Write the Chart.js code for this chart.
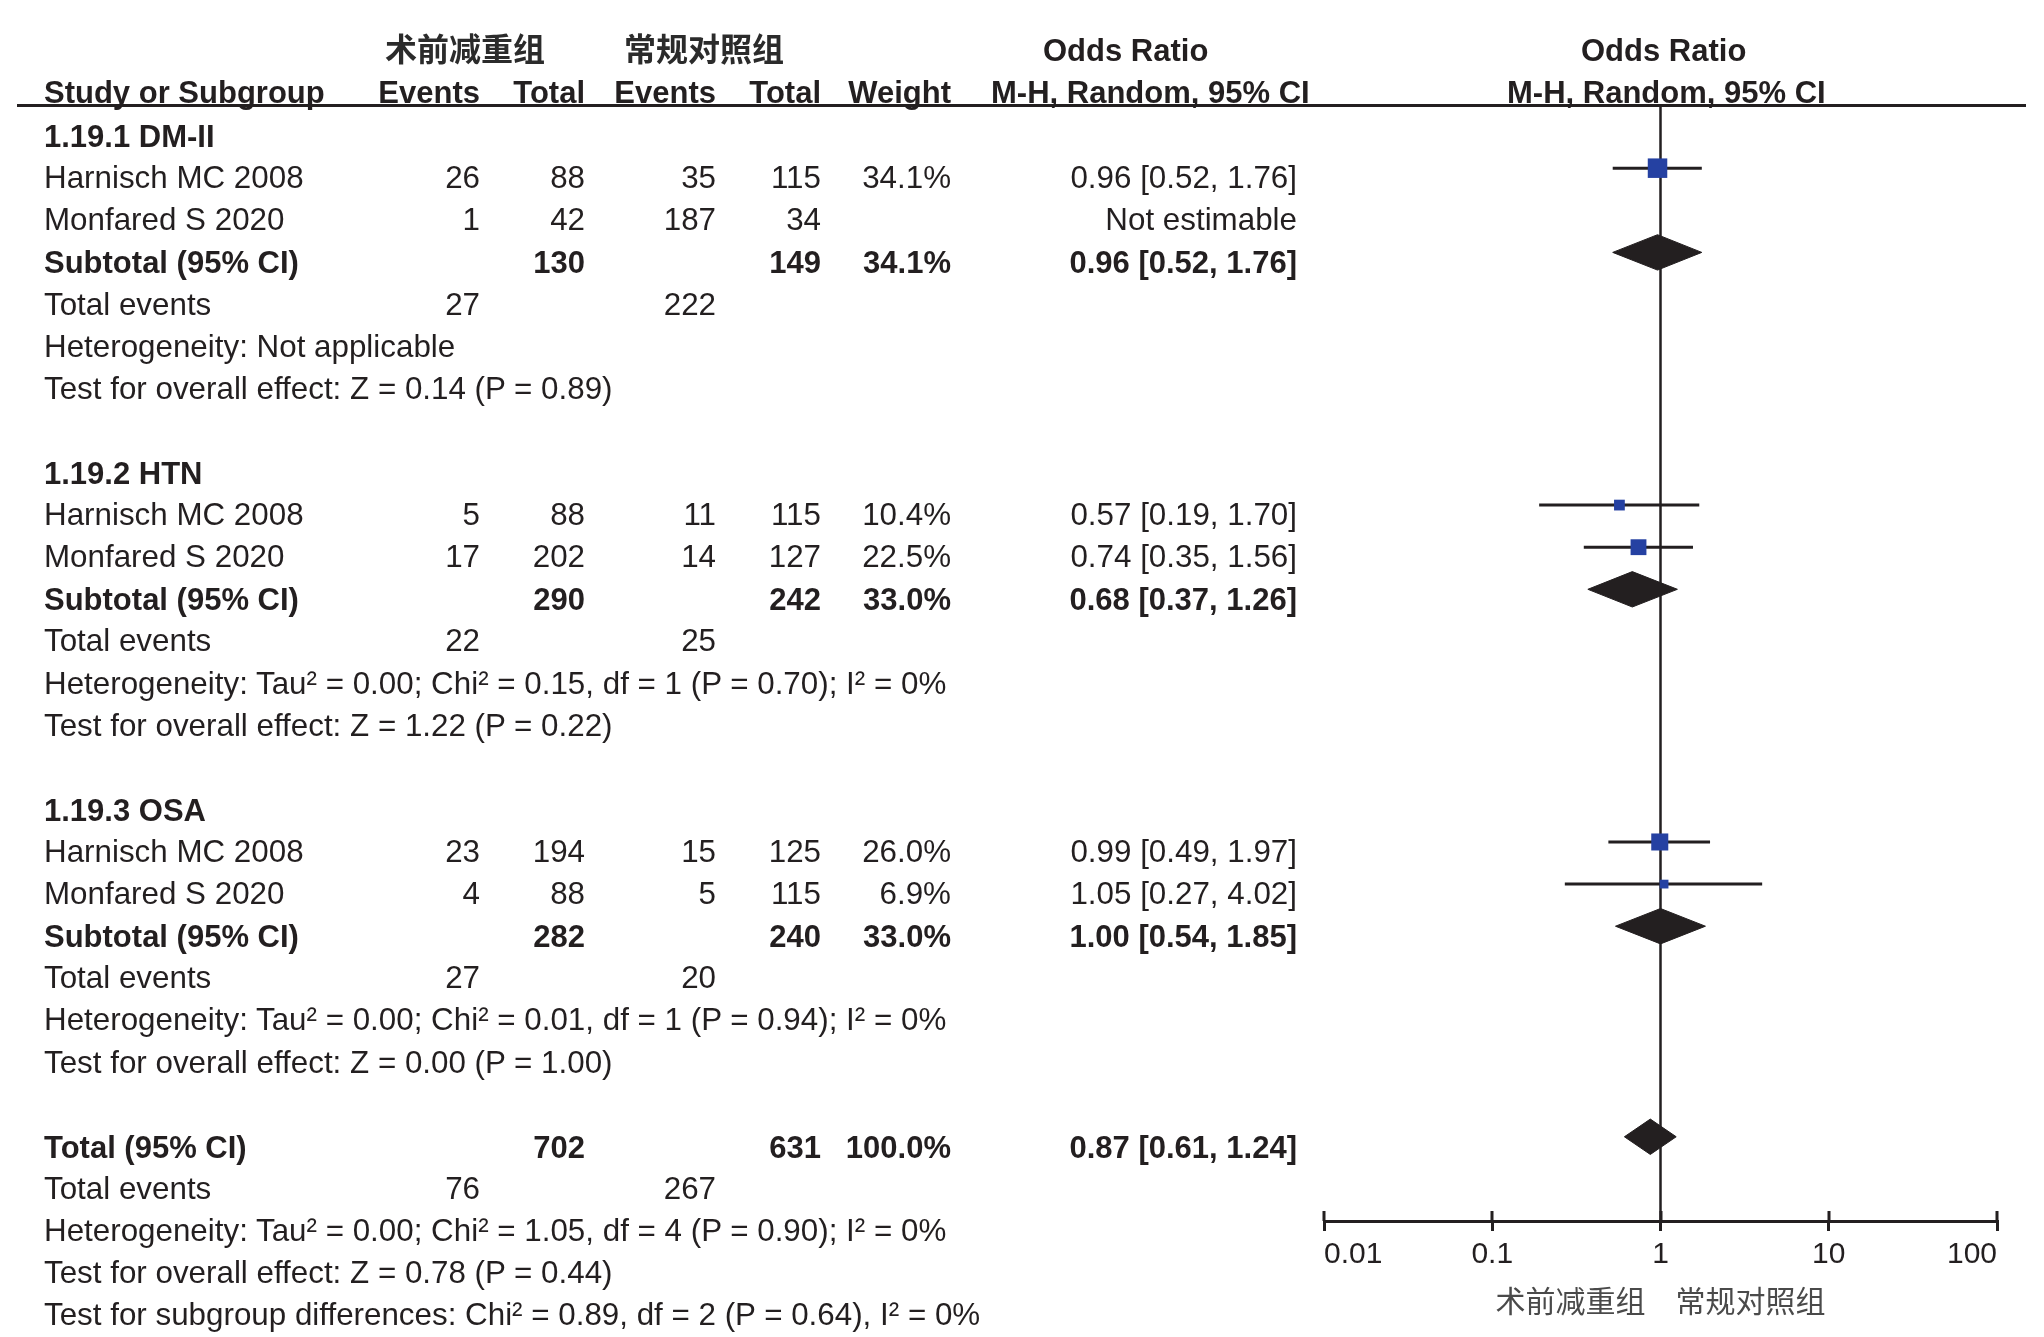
<!DOCTYPE html>
<html>
<head>
<meta charset="utf-8">
<script src="https://cdn.jsdelivr.net/npm/chart.js@4/dist/chart.umd.min.js"></script>
<style>
  html, body { margin: 0; padding: 0; background: #fff; overflow: hidden; }
  #wrap { position: relative; width: 2044px; height: 1337px; overflow: hidden; }
  #c { position: absolute; left: 0; top: 0; width: 2044px; height: 1337px; }
  #txt { position: absolute; left: 0; top: 0; width: 2044px; height: 1337px; }
  .t { position: absolute; white-space: nowrap; line-height: 1; font-family: "Liberation Sans", Arial, sans-serif; font-size: 31.35px; color: #231f20; }
  .b { font-weight: bold; font-size: 31px; }
  .cjk { font-family: "Noto Sans CJK SC", sans-serif; font-weight: bold; font-size: 32px; color: #2b2b2b; }
  .hline { position: absolute; height: 3px; background: #231f20; }
</style>
</head>
<body>
<div id="wrap">
  <canvas id="c" width="2044" height="1337"></canvas>
  <div id="txt"></div>
</div>
<script>
// ---------------- data ----------------
const GROUPS = ['1.19.1 DM-II', '1.19.2 HTN', '1.19.3 OSA'];

const STUDIES     = ['Harnisch MC 2008', 'Monfared S 2020', 'Harnisch MC 2008', 'Monfared S 2020', 'Harnisch MC 2008', 'Monfared S 2020'];
const STUDY_GROUP = [0, 0, 1, 1, 2, 2];
const EXP_EVENTS  = [26, 1, 5, 17, 23, 4];
const EXP_TOTAL   = [88, 42, 88, 202, 194, 88];
const CTL_EVENTS  = [35, 187, 11, 14, 15, 5];
const CTL_TOTAL   = [115, 34, 115, 127, 125, 115];
const WEIGHT      = [34.1, null, 10.4, 22.5, 26.0, 6.9];
const OR          = [0.96, null, 0.57, 0.74, 0.99, 1.05];
const CI_LO       = [0.52, null, 0.19, 0.35, 0.49, 0.27];
const CI_HI       = [1.76, null, 1.70, 1.56, 1.97, 4.02];

const SUB_EXP_TOTAL  = [130, 290, 282];
const SUB_CTL_TOTAL  = [149, 242, 240];
const SUB_WEIGHT     = [34.1, 33.0, 33.0];
const SUB_OR         = [0.96, 0.68, 1.00];
const SUB_LO         = [0.52, 0.37, 0.54];
const SUB_HI         = [1.76, 1.26, 1.85];
const SUB_EXP_EVENTS = [27, 22, 27];
const SUB_CTL_EVENTS = [222, 25, 20];
const SUB_HET = [
  'Heterogeneity: Not applicable',
  'Heterogeneity: Tau² = 0.00; Chi² = 0.15, df = 1 (P = 0.70); I² = 0%',
  'Heterogeneity: Tau² = 0.00; Chi² = 0.01, df = 1 (P = 0.94); I² = 0%'
];
const SUB_TEST = [
  'Test for overall effect: Z = 0.14 (P = 0.89)',
  'Test for overall effect: Z = 1.22 (P = 0.22)',
  'Test for overall effect: Z = 0.00 (P = 1.00)'
];

const TOTAL_EXP = 702, TOTAL_CTL = 631, TOTAL_WEIGHT = 100.0;
const TOTAL_OR = 0.87, TOTAL_LO = 0.61, TOTAL_HI = 1.24;
const TOTAL_EXP_EVENTS = 76, TOTAL_CTL_EVENTS = 267;
const TOTAL_HET = 'Heterogeneity: Tau² = 0.00; Chi² = 1.05, df = 4 (P = 0.90); I² = 0%';
const TOTAL_TEST = 'Test for overall effect: Z = 0.78 (P = 0.44)';
const SUBGROUP_TEST = 'Test for subgroup differences: Chi² = 0.89, df = 2 (P = 0.64), I² = 0%';

const GROUP_EXP = '术前减重组';
const GROUP_CTL = '常规对照组';
const X_TICKS = [0.01, 0.1, 1, 10, 100];

// ---------------- layout / style ----------------
const INK = '#231f20';
const BLUE = '#2541a2';
const ROWS_PER_GROUP = 8;
const TOTAL_ROW = GROUPS.length * ROWS_PER_GROUP;
const DIAMOND_HALF = 0.42;            // in row units
const TARGET = { left: 1324, right: 1997, top: 105, bottom: 1221 };
const COL = { label: 44, e1: 480, n1: 585, e2: 716, n2: 821, w: 951, ci: 1297 };
const TEXT_DY = 10;

function studyRow(i) {
  const g = STUDY_GROUP[i];
  let k = 0;
  for (let j = 0; j < i; j++) if (STUDY_GROUP[j] === g) k++;
  return g * ROWS_PER_GROUP + 1 + k;
}
function subRow(g) { return g * ROWS_PER_GROUP + 3; }
function squareRadius(w) { return (3.34 * Math.sqrt(w)) / Math.SQRT2; }
function fmtCI(o, l, h) { return o.toFixed(2) + ' [' + l.toFixed(2) + ', ' + h.toFixed(2) + ']'; }

// ---------------- datasets ----------------
const datasets = [];
const squares = [];
STUDIES.forEach((s, i) => {
  if (OR[i] != null) squares.push({ x: OR[i], y: studyRow(i), w: WEIGHT[i] });
});
datasets.push({
  label: 'studies', data: squares, showLine: false,
  pointStyle: 'rect', backgroundColor: BLUE, borderColor: BLUE, borderWidth: 0,
  pointRadius: ctx => squareRadius(ctx.raw ? ctx.raw.w : 1)
});
STUDIES.forEach((s, i) => {
  if (OR[i] == null) return;
  const r = studyRow(i);
  datasets.push({
    label: 'ci' + i, data: [{ x: CI_LO[i], y: r }, { x: CI_HI[i], y: r }],
    showLine: true, borderColor: INK, borderWidth: 3, pointRadius: 0, fill: false
  });
});
function diamond(o, l, h, r) {
  return {
    label: 'diamond', showLine: true, fill: 'shape', tension: 0,
    data: [{ x: l, y: r }, { x: o, y: r - DIAMOND_HALF }, { x: h, y: r }, { x: o, y: r + DIAMOND_HALF }, { x: l, y: r }],
    borderColor: INK, backgroundColor: INK, borderWidth: 1, pointRadius: 0
  };
}
GROUPS.forEach((g, k) => datasets.push(diamond(SUB_OR[k], SUB_LO[k], SUB_HI[k], subRow(k))));
datasets.push(diamond(TOTAL_OR, TOTAL_LO, TOTAL_HI, TOTAL_ROW));
datasets.push({
  label: 'null', showLine: true, data: [{ x: 1, y: -0.5 }, { x: 1, y: 26 }],
  borderColor: INK, borderWidth: 2.5, pointRadius: 0, fill: false
});

const upperTicks = {
  id: 'upperTicks',
  afterDraw(chart) {
    const s = chart.scales.x, c = chart.ctx, y0 = chart.chartArea.bottom;
    c.save();
    c.strokeStyle = INK; c.lineWidth = 3;
    c.beginPath();
    X_TICKS.forEach(v => { const px = Math.round(s.getPixelForValue(v)); c.moveTo(px, y0 - 10); c.lineTo(px, y0); });
    c.stroke();
    c.restore();
  }
};

const chart = new Chart(document.getElementById('c'), {
  type: 'scatter',
  data: { datasets },
  options: {
    responsive: false, animation: false, events: [],
    layout: { padding: { left: TARGET.left, right: 2044 - TARGET.right, top: TARGET.top, bottom: 20 } },
    plugins: { legend: { display: false }, tooltip: { enabled: false } },
    scales: {
      x: {
        type: 'logarithmic', min: 0.01, max: 100,
        afterBuildTicks: s => { s.ticks = X_TICKS.map(v => ({ value: v })); },
        ticks: {
          align: 'inner', autoSkip: false, maxRotation: 0, padding: 6,
          color: INK, font: { family: 'Liberation Sans', size: 30 },
          callback: v => String(v)
        },
        grid: { drawOnChartArea: false, drawTicks: true, tickLength: 10, color: INK, lineWidth: 3 },
        border: { display: true, color: INK, width: 3 },
        title: {
          display: true, text: GROUP_EXP + '\u3000' + GROUP_CTL, color: '#4a4a4a',
          font: { family: 'Noto Sans CJK SC', size: 30, weight: 'normal' }, padding: { top: 4, bottom: 0 }
        }
      },
      y: { type: 'linear', min: -0.5, max: 26, reverse: true, display: false }
    }
  },
  plugins: [upperTicks]
});

for (let it = 0; it < 3; it++) {
  const a = chart.chartArea, p = chart.options.layout.padding;
  p.left += TARGET.left - a.left;
  p.right += a.right - TARGET.right;
  p.top += TARGET.top - a.top;
  p.bottom += a.bottom - TARGET.bottom;
  chart.update();
}

// ---------------- table text ----------------
const box = document.getElementById('txt');
const ys = chart.scales.y;
function put(str, x, row, align, cls, dy) {
  const d = document.createElement('div');
  d.className = 't' + (cls ? ' ' + cls : '');
  d.textContent = str;
  const y = ys.getPixelForValue(row) + (dy == null ? TEXT_DY : dy);
  d.style.left = x + 'px';
  d.style.top = y + 'px';
  const tx = align === 'right' ? '-100%' : (align === 'center' ? '-50%' : '0');
  d.style.transform = 'translate(' + tx + ', -50%)';
  box.appendChild(d);
}
// headers
put(GROUP_EXP, 385, -2, 'left', 'cjk', 5);
put(GROUP_CTL, 624, -2, 'left', 'cjk', 5);
put('Odds Ratio', 1043, -2, 'left', 'b', 8);
put('Odds Ratio', 1581, -2, 'left', 'b', 8);
put('Study or Subgroup', COL.label, -1, 'left', 'b', 8);
put('Events', COL.e1, -1, 'right', 'b', 8);
put('Total', COL.n1, -1, 'right', 'b', 8);
put('Events', COL.e2, -1, 'right', 'b', 8);
put('Total', COL.n2, -1, 'right', 'b', 8);
put('Weight', COL.w, -1, 'right', 'b', 8);
put('M-H, Random, 95% CI', 991, -1, 'left', 'b', 8);
put('M-H, Random, 95% CI', 1507, -1, 'left', 'b', 8);
const hl = document.createElement('div');
hl.className = 'hline';
hl.style.left = '17px'; hl.style.width = (2026 - 17) + 'px';
hl.style.top = (chart.chartArea.top - 1.5) + 'px';
box.appendChild(hl);

GROUPS.forEach((g, k) => {
  const base = k * ROWS_PER_GROUP;
  put(g, COL.label, base, 'left', 'b');
  STUDIES.forEach((s, i) => {
    if (STUDY_GROUP[i] !== k) return;
    const r = studyRow(i);
    put(s, COL.label, r, 'left');
    put(String(EXP_EVENTS[i]), COL.e1, r, 'right');
    put(String(EXP_TOTAL[i]), COL.n1, r, 'right');
    put(String(CTL_EVENTS[i]), COL.e2, r, 'right');
    put(String(CTL_TOTAL[i]), COL.n2, r, 'right');
    if (WEIGHT[i] != null) put(WEIGHT[i].toFixed(1) + '%', COL.w, r, 'right');
    put(OR[i] != null ? fmtCI(OR[i], CI_LO[i], CI_HI[i]) : 'Not estimable', COL.ci, r, 'right');
  });
  const sr = subRow(k);
  put('Subtotal (95% CI)', COL.label, sr, 'left', 'b');
  put(String(SUB_EXP_TOTAL[k]), COL.n1, sr, 'right', 'b');
  put(String(SUB_CTL_TOTAL[k]), COL.n2, sr, 'right', 'b');
  put(SUB_WEIGHT[k].toFixed(1) + '%', COL.w, sr, 'right', 'b');
  put(fmtCI(SUB_OR[k], SUB_LO[k], SUB_HI[k]), COL.ci, sr, 'right', 'b');
  put('Total events', COL.label, sr + 1, 'left');
  put(String(SUB_EXP_EVENTS[k]), COL.e1, sr + 1, 'right');
  put(String(SUB_CTL_EVENTS[k]), COL.e2, sr + 1, 'right');
  put(SUB_HET[k], COL.label, sr + 2, 'left');
  put(SUB_TEST[k], COL.label, sr + 3, 'left');
});
const tr = TOTAL_ROW;
put('Total (95% CI)', COL.label, tr, 'left', 'b');
put(String(TOTAL_EXP), COL.n1, tr, 'right', 'b');
put(String(TOTAL_CTL), COL.n2, tr, 'right', 'b');
put(TOTAL_WEIGHT.toFixed(1) + '%', COL.w, tr, 'right', 'b');
put(fmtCI(TOTAL_OR, TOTAL_LO, TOTAL_HI), COL.ci, tr, 'right', 'b');
put('Total events', COL.label, tr + 1, 'left');
put(String(TOTAL_EXP_EVENTS), COL.e1, tr + 1, 'right');
put(String(TOTAL_CTL_EVENTS), COL.e2, tr + 1, 'right');
put(TOTAL_HET, COL.label, tr + 2, 'left');
put(TOTAL_TEST, COL.label, tr + 3, 'left');
put(SUBGROUP_TEST, COL.label, tr + 4, 'left');
</script>
</body>
</html>
